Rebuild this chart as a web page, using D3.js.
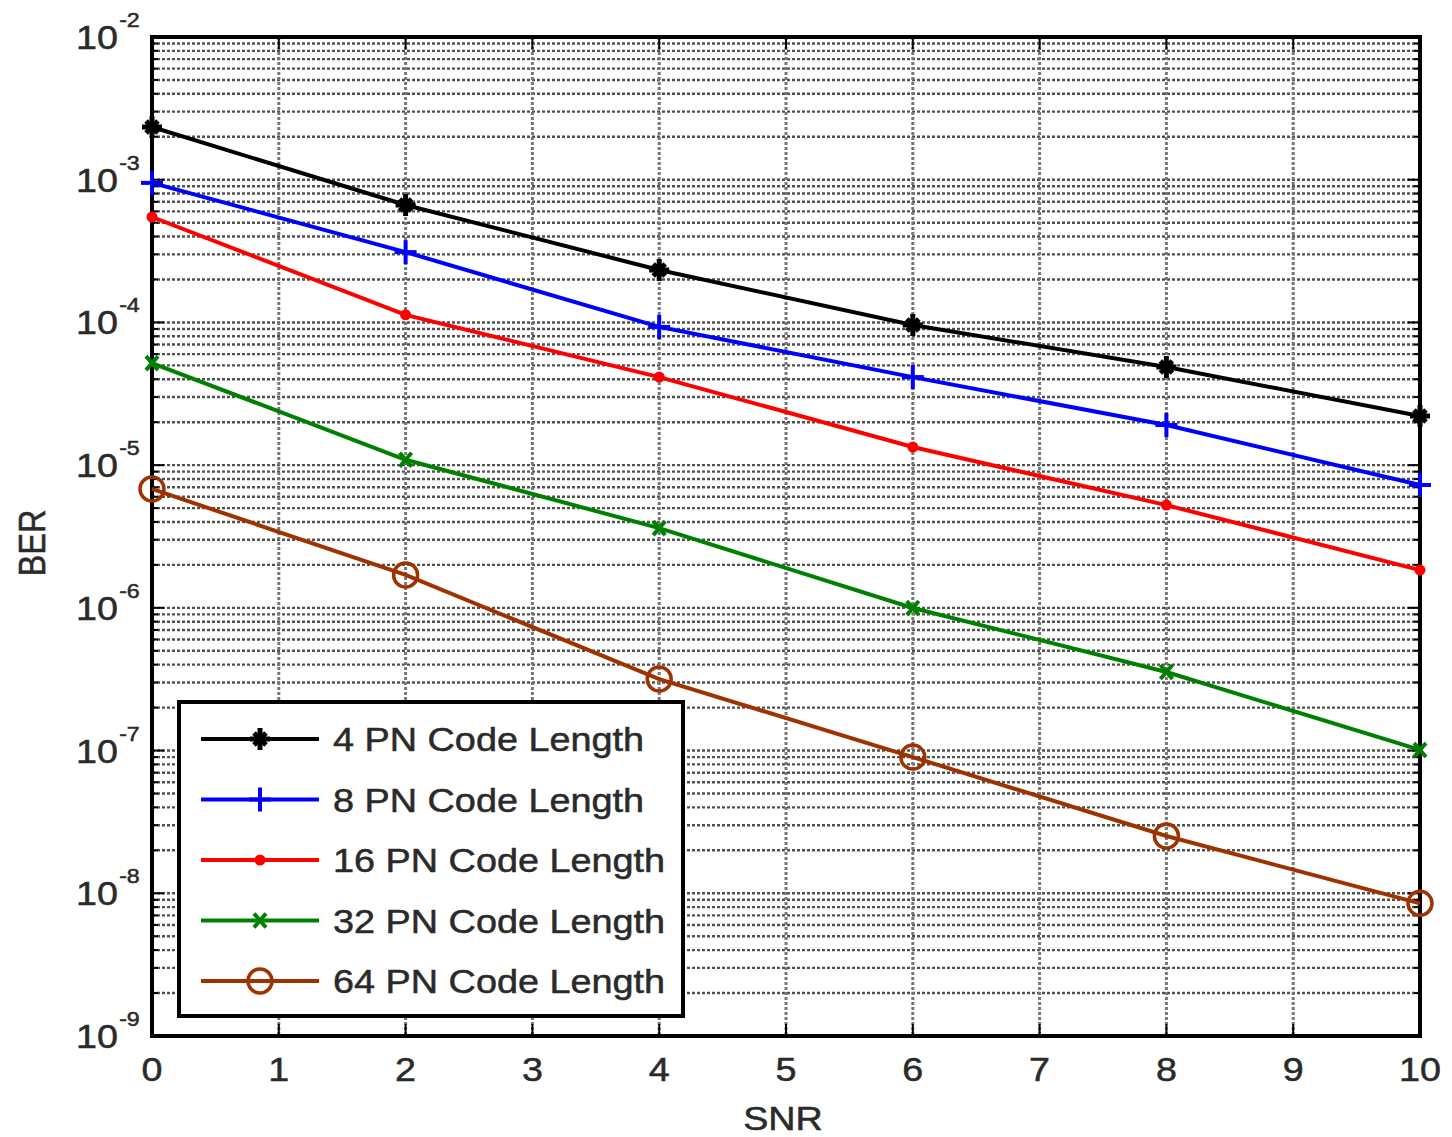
<!DOCTYPE html>
<html>
<head>
<meta charset="utf-8">
<script src="https://cdnjs.cloudflare.com/ajax/libs/d3/7.8.5/d3.min.js"></script>
<style>
  body { margin: 0; background: #fff; }
  svg { display: block; }
  text { font-family: "Liberation Sans", Arial, sans-serif; fill: #2a2a2a; stroke: #2a2a2a; stroke-width: 0.5px; }
</style>
</head>
<body>
<div id="chart"></div>
<script>
// data
const snr = [0, 2, 4, 6, 8, 10];
const ber4  = [2.34e-3, 6.65e-4, 2.33e-4, 9.6e-5, 4.87e-5, 2.21e-5];
const ber8  = [9.5e-4, 3.11e-4, 9.3e-5, 4.14e-5, 1.91e-5, 7.26e-6];
const ber16 = [5.48e-4, 1.13e-4, 4.14e-5, 1.34e-5, 5.25e-6, 1.84e-6];
const ber32 = [5.19e-5, 1.09e-5, 3.62e-6, 9.98e-7, 3.55e-7, 1.01e-7];
const ber64 = [6.81e-6, 1.70e-6, 3.17e-7, 9.0e-8, 2.52e-8, 8.5e-9];
const seriesNames = ["4 PN Code Length", "8 PN Code Length", "16 PN Code Length", "32 PN Code Length", "64 PN Code Length"];
const xTicks = [0, 1, 2, 3, 4, 5, 6, 7, 8, 9, 10];
const yExponents = [-9, -8, -7, -6, -5, -4, -3, -2];

const series = [
  { name: seriesNames[0], values: ber4,  color: "#000000", marker: "star" },
  { name: seriesNames[1], values: ber8,  color: "#0000ff", marker: "plus" },
  { name: seriesNames[2], values: ber16, color: "#ff0000", marker: "dot" },
  { name: seriesNames[3], values: ber32, color: "#008000", marker: "cross" },
  { name: seriesNames[4], values: ber64, color: "#9e3300", marker: "circle" }
];

const W = 1452, H = 1137;
const mLeft = 152, mRight = 1420, mTop = 37, mBottom = 1036;
const SX = 1.16; // text in the picture is stretched sideways

const svg = d3.select("#chart").append("svg")
  .attr("width", W)
  .attr("height", H);

const x = d3.scaleLinear().domain([0, 10]).range([mLeft, mRight]);
const y = d3.scaleLog().domain([1e-9, 1e-2]).range([mBottom, mTop]);

// grid values for the log axis (1..9 per decade)
const minorVals = [];
yExponents.forEach(e => {
  if (e === -2) { minorVals.push(1e-2); return; }
  for (let m = 1; m <= 9; m++) minorVals.push(m * Math.pow(10, e));
});

const grid = svg.append("g")
  .attr("stroke-dasharray", "3,2");

grid.selectAll("line.h")
  .data(minorVals)
  .enter()
  .append("line")
  .attr("class", "h")
  .attr("x1", mLeft).attr("x2", mRight)
  .attr("y1", d => y(d)).attr("y2", d => y(d))
  .attr("stroke", "#505050")
  .attr("stroke-width", 2.4);

grid.selectAll("line.v")
  .data(xTicks)
  .enter()
  .append("line")
  .attr("class", "v")
  .attr("x1", d => x(d)).attr("x2", d => x(d))
  .attr("y1", mTop).attr("y2", mBottom)
  .attr("stroke", "#777")
  .attr("stroke-width", 3);

// inward ticks
const ticks = svg.append("g").attr("stroke", "#000").attr("stroke-width", 2);
minorVals.forEach(v => {
  const major = Math.abs(Math.log10(v) - Math.round(Math.log10(v))) < 1e-9;
  const len = major ? 12 : 6;
  ticks.append("line").attr("x1", mLeft).attr("x2", mLeft + len).attr("y1", y(v)).attr("y2", y(v));
  ticks.append("line").attr("x1", mRight).attr("x2", mRight - len).attr("y1", y(v)).attr("y2", y(v));
});
xTicks.forEach(t => {
  ticks.append("line").attr("x1", x(t)).attr("x2", x(t)).attr("y1", mBottom).attr("y2", mBottom - 12);
  ticks.append("line").attr("x1", x(t)).attr("x2", x(t)).attr("y1", mTop).attr("y2", mTop + 12);
});

// axes box (under the data, as in the figure)
svg.append("rect")
  .attr("x", mLeft).attr("y", mTop)
  .attr("width", mRight - mLeft).attr("height", mBottom - mTop)
  .attr("fill", "none")
  .attr("stroke", "#000")
  .attr("stroke-width", 4);

// series lines
const line = d3.line()
  .x((d, i) => x(snr[i]))
  .y(d => y(d));

const plot = svg.append("g");
series.forEach(s => {
  plot.append("path")
    .datum(s.values)
    .attr("d", line)
    .attr("fill", "none")
    .attr("stroke", s.color)
    .attr("stroke-width", 4);
});

function drawMarker(g, type, cx, cy, color) {
  const m = g.append("g").attr("transform", `translate(${cx},${cy})`)
    .attr("stroke", color).attr("fill", "none");
  if (type === "star") {
    m.attr("stroke-width", 5);
    m.append("line").attr("x1", -10).attr("x2", 10).attr("y1", 0).attr("y2", 0);
    m.append("line").attr("x1", 0).attr("x2", 0).attr("y1", -11).attr("y2", 11);
    m.append("line").attr("x1", -6).attr("x2", 6).attr("y1", -6).attr("y2", 6);
    m.append("line").attr("x1", -6).attr("x2", 6).attr("y1", 6).attr("y2", -6);
  } else if (type === "plus") {
    m.attr("stroke-width", 4);
    m.append("line").attr("x1", -11).attr("x2", 11).attr("y1", 0).attr("y2", 0);
    m.append("line").attr("x1", 0).attr("x2", 0).attr("y1", -12).attr("y2", 12);
  } else if (type === "dot") {
    m.append("circle").attr("r", 5.5).attr("fill", color).attr("stroke", "none");
  } else if (type === "cross") {
    m.attr("stroke-width", 4);
    m.append("line").attr("x1", -6).attr("x2", 6).attr("y1", -7).attr("y2", 7);
    m.append("line").attr("x1", -6).attr("x2", 6).attr("y1", 7).attr("y2", -7);
  } else if (type === "circle") {
    m.attr("stroke-width", 3.5);
    m.append("circle").attr("r", 12);
  }
}

series.forEach(s => {
  s.values.forEach((v, i) => drawMarker(plot, s.marker, x(snr[i]), y(v), s.color));
});

// text helper
function label(px, py, txt, size, anchor) {
  const g = svg.append("g").attr("transform", `translate(${px},${py}) scale(${SX},1)`);
  g.append("text")
    .attr("text-anchor", anchor || "middle")
    .attr("font-size", size)
    .text(txt);
  return g;
}

// x tick labels
xTicks.forEach(t => label(x(t), 1081, String(t), 32.5, "middle"));

// y tick labels: 10 with superscript
yExponents.forEach(e => {
  const ty = y(Math.pow(10, e));
  const g = svg.append("g").attr("transform", `translate(118,${ty}) scale(${SX},1)`);
  g.append("text").attr("text-anchor", "end").attr("font-size", 32.5).attr("y", 12).text("10");
  g.append("text").attr("text-anchor", "start").attr("font-size", 20).attr("x", 1).attr("y", -10).text(String(e));
});

// axis titles
label(783, 1130, "SNR", 32.5, "middle");
svg.append("g")
  .attr("transform", "translate(45,543) rotate(-90) scale(1,1.16)")
  .append("text")
  .attr("text-anchor", "middle")
  .attr("font-size", 32.5)
  .text("BER");

// legend
const lg = svg.append("g");
lg.append("rect")
  .attr("x", 179).attr("y", 702)
  .attr("width", 504).attr("height", 314)
  .attr("fill", "#fff")
  .attr("stroke", "#000")
  .attr("stroke-width", 4);

series.forEach((s, i) => {
  const ry = 739 + i * 60.5;
  lg.append("line")
    .attr("x1", 201).attr("x2", 319)
    .attr("y1", ry).attr("y2", ry)
    .attr("stroke", s.color)
    .attr("stroke-width", 4);
  drawMarker(lg, s.marker, 260, ry, s.color);
  const g = lg.append("g").attr("transform", `translate(333,${ry + 12}) scale(${SX},1)`);
  g.append("text").attr("font-size", 32.6).text(s.name);
});
</script>
</body>
</html>
